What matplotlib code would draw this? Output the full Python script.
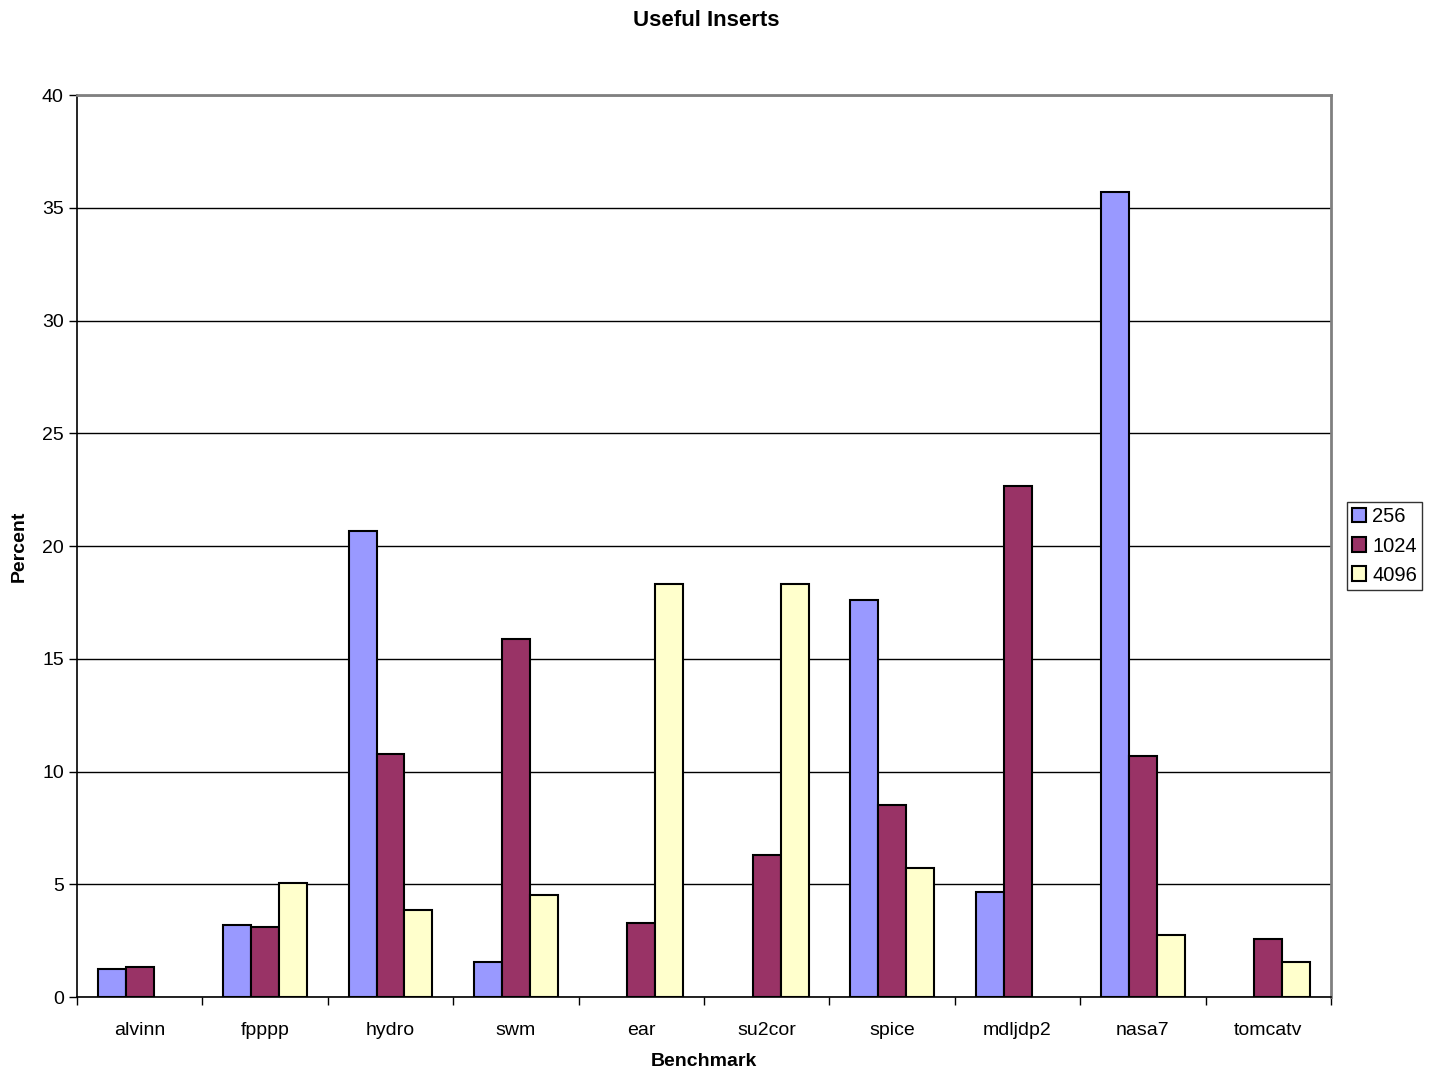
import numpy as np
import matplotlib
matplotlib.use('Agg')
import matplotlib.pyplot as plt
from matplotlib.patches import Patch

benchmarks = ['alvinn', 'fpppp', 'hydro', 'swm', 'ear', 'su2cor', 'spice', 'mdljdp2', 'nasa7', 'tomcatv']
series_names = ['256', '1024', '4096']
vals_256 = [1.24, 3.19, 20.67, 1.55, 0, 0, 17.6, 4.66, 35.7, 0]
vals_1024 = [1.33, 3.10, 10.78, 15.88, 3.28, 6.30, 8.51, 22.66, 10.69, 2.57]
vals_4096 = [0, 5.06, 3.86, 4.52, 18.31, 18.31, 5.72, 0, 2.75, 1.55]
colors = ['#9999FF', '#993366', '#FFFFCC']

plt.rcParams['font.family'] = ['Liberation Sans', 'DejaVu Sans']

fig = plt.figure(figsize=(14.34, 10.7), dpi=100)
ax = fig.add_axes([0.0537, 0.0682, 0.8745, 0.843])

x = np.arange(len(benchmarks))
w = 0.223
handles = []
for i, (vals, name) in enumerate(zip([vals_256, vals_1024, vals_4096], series_names)):
    bars = ax.bar(x + (i - 1) * w, vals, w, color=colors[i], edgecolor='black', linewidth=1.5,
                  zorder=3)
    # zero-valued bars leave no outline
    for b, v in zip(bars, vals):
        if v == 0:
            b.set_visible(False)
    handles.append(Patch(facecolor=colors[i], edgecolor='black', linewidth=1.5, label=name))

ax.set_xlim(-0.5, len(benchmarks) - 0.5)
ax.set_ylim(0, 40)
ax.set_yticks(range(0, 41, 5))
ax.yaxis.grid(True, color='black', linewidth=1, zorder=0)
ax.set_xticks(x)
ax.set_xticklabels(benchmarks, fontsize=14)
ax.set_xticks(np.arange(-0.5, len(benchmarks)), minor=True)
ax.tick_params(axis='x', which='major', length=0, pad=18)
ax.tick_params(axis='x', which='minor', length=6, width=1, direction='out')
ax.tick_params(axis='y', labelsize=14, length=6, direction='out', width=1)

for side in ['top', 'right']:
    ax.spines[side].set_color('#808080')
    ax.spines[side].set_linewidth(2)
for side in ['left', 'bottom']:
    ax.spines[side].set_color('black')
    ax.spines[side].set_linewidth(1.2)

ax.set_xlabel('Benchmark', fontsize=14, fontweight='bold', labelpad=10)
ax.set_ylabel('Percent', fontsize=14, fontweight='bold', labelpad=10)
fig.text(0.4925, 0.981, 'Useful Inserts', fontsize=16, fontweight='bold', ha='center', va='center')

leg = ax.legend(handles=handles, loc='center left', bbox_to_anchor=(1.008, 0.5), fontsize=14.5,
                frameon=True, fancybox=False, edgecolor='black', handlelength=0.7,
                handleheight=0.7, handletextpad=0.3, borderpad=0.25, labelspacing=0.5,
                borderaxespad=0.3)
leg.get_frame().set_linewidth(1)

fig.savefig('out.png', dpi=100)
